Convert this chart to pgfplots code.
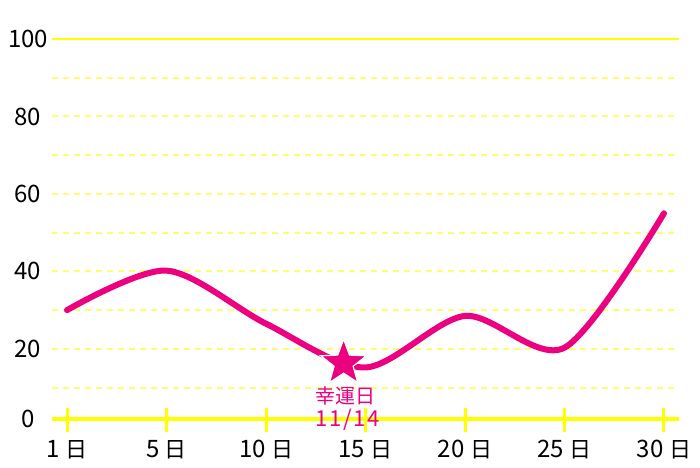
\documentclass[border=0pt]{standalone}
\usepackage{fontspec}
\setmainfont{Noto Sans CJK JP}
\newfontfamily\widedigits[LetterSpace=8]{Noto Sans CJK JP}
\usepackage{pgfplots}
\pgfplotsset{compat=1.18}
\usetikzlibrary{shapes.geometric}
\definecolor{luckpink}{RGB}{236,0,128}
\definecolor{lineyellow}{RGB}{255,255,0}
\definecolor{gridyellow}{RGB}{255,255,110}

% filled five-pointed star for the lucky day
\pgfdeclareplotmark{luckstar}{%
  \pgfset{/pgf/star points=5,/pgf/star point ratio=2.4,
          /pgf/minimum size=24pt,/pgf/inner sep=0pt}%
  \pgfnode{star}{center}{}{}{\pgfusepath{fill,stroke}}}

\newcommand{\nichi}[1]{#1 {\fontsize{11}{13}\selectfont 日}}

\begin{document}
\begin{tikzpicture}
\begin{axis}[
  name=ax,
  scale only axis,
  width=313.5pt, height=193.65pt,
  xmin=-0.151, xmax=6.151,
  ymin=0, ymax=100,
  axis line style={draw=none},
  tick style={draw=none},
  xtick={0,...,6},
  xticklabels={\nichi{1},\nichi{5},\nichi{10},\nichi{15},\nichi{20},\nichi{25},\nichi{30}},
  ytick={1.8,20,40,60,80,100},
  yticklabels={0,20,40,60,80,100},
  xticklabel style={anchor=center, yshift=-11.6pt, font=\fontsize{12}{14}\selectfont},
  yticklabel style={anchor=center, xshift=-12pt, font=\fontsize{12}{14}\selectfont},
  clip=false,
]
% grid
\pgfplotsinvokeforeach{10,20,...,90}{
  \draw[gridyellow, line width=1pt, dash pattern=on 3pt off 2.5pt]
    (axis cs:-0.151,#1) -- (axis cs:6.151,#1);
}
\draw[lineyellow, line width=1pt] (axis cs:-0.151,100) -- (axis cs:6.151,100);
\draw[lineyellow, line width=2pt] (axis cs:-0.151,1.8) -- (axis cs:6.151,1.8);
\pgfplotsinvokeforeach{0,...,6}{
  \draw[lineyellow, line width=1.5pt] (axis cs:#1,1.8) ++(0pt,-6.5pt) -- ++(0pt,12pt);
}

\addplot[luckpink, line width=3pt, smooth, tension=0.5, line cap=round]
  coordinates {(0,30)(1,40.2)(2,26.5)(3,15.2)(4,28.5)(5,20.3)(6,55)};

\addplot[only marks, mark=luckstar,
  mark options={fill=luckpink, draw=white, line width=0.6pt}]
  coordinates {(2.78,16.3)};
\node[luckpink, font=\fontsize{10}{12}\selectfont, yshift=-16.25pt]
  at (axis cs:2.8,16.2) {幸運日};
\node[luckpink, font=\fontsize{11}{12}\selectfont\widedigits, yshift=-28.25pt, xshift=1pt]
  at (axis cs:2.8,16.2) {11/14};
\end{axis}
\pgfresetboundingbox
\path[use as bounding box] ([shift={(-26pt,-20.35pt)}]ax.south west) rectangle ++(350pt,233.5pt);
\end{tikzpicture}
\end{document}
